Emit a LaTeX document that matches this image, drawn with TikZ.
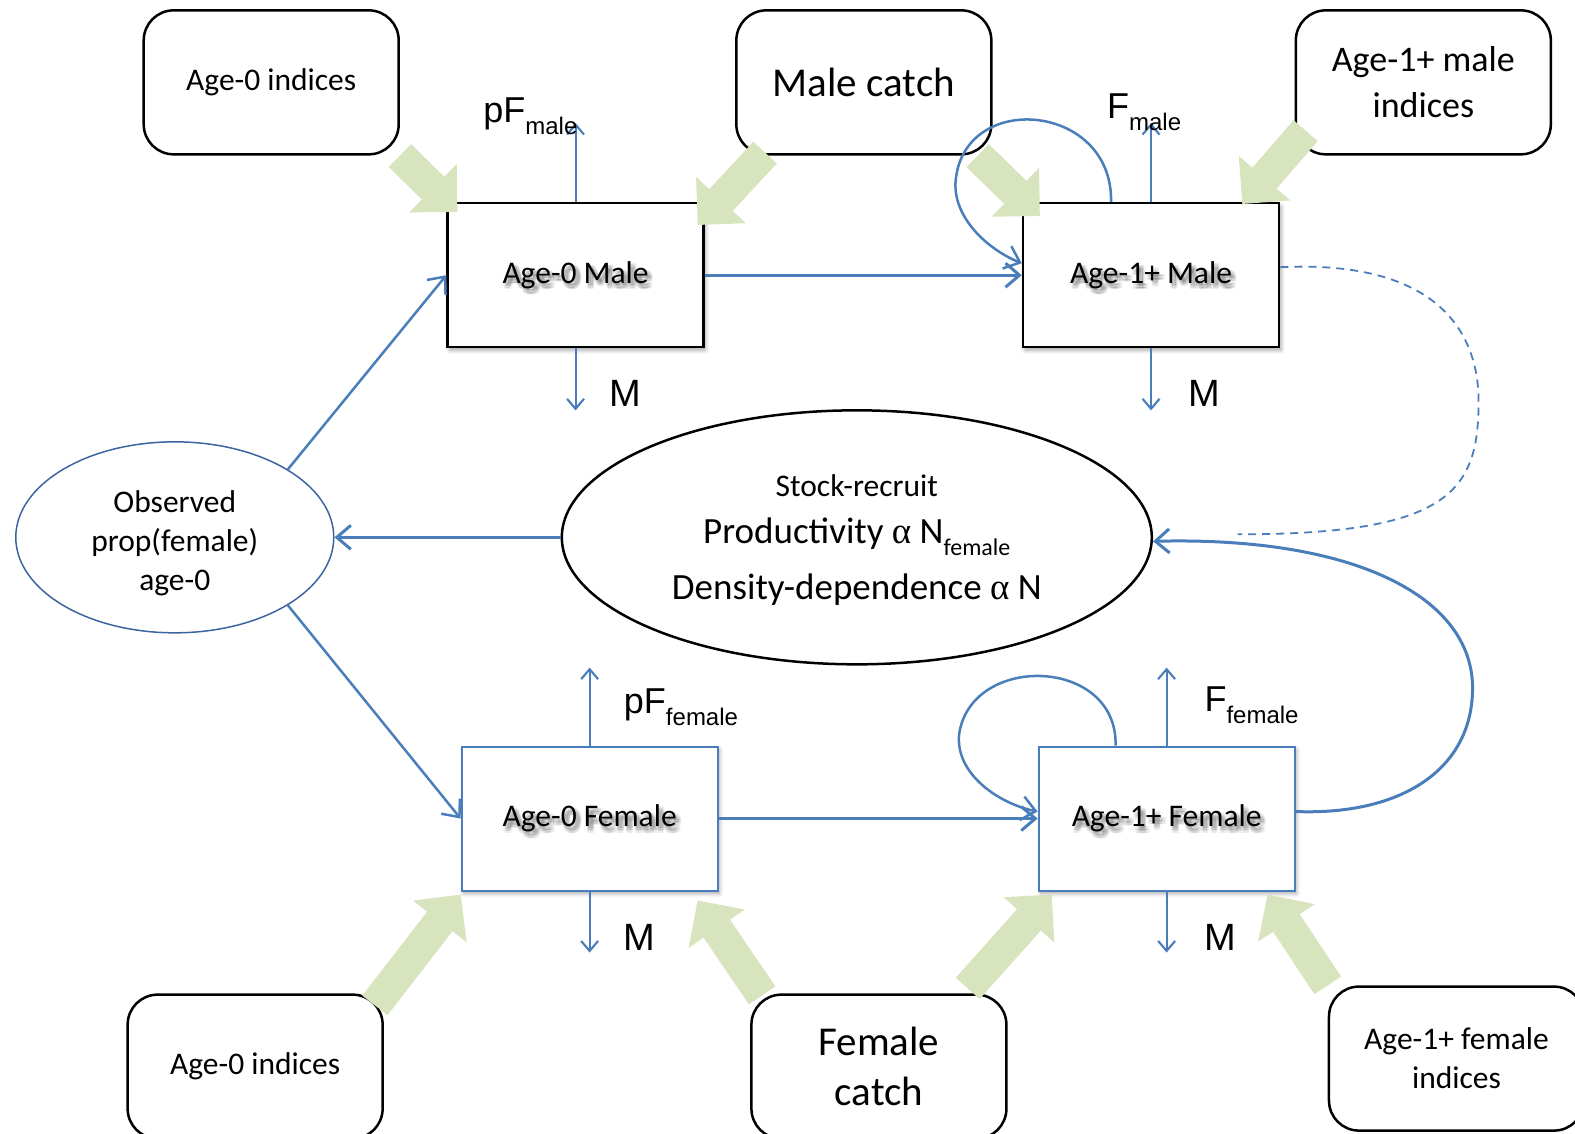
\documentclass[tikz,border=0pt]{standalone}
\usepackage{fontspec}
\setmainfont{Carlito}
\newfontfamily\arialfont{Liberation Sans}
\newfontfamily\symbfont{Liberation Serif}
\usetikzlibrary{arrows.meta, positioning, shapes.geometric, shadows.blur}

\definecolor{flowblue}{RGB}{74,126,187}
\definecolor{ellblue}{RGB}{60,100,160}
\definecolor{feedgreen}{RGB}{215,228,189}

\newcommand{\fsize}[2]{\fontsize{#1}{#2}\selectfont}
\newcommand{\ratelab}[2]{{\arialfont\fsize{36}{36}#1}\raisebox{-12pt}{\arialfont\fsize{24}{24}#2}}
\newcommand{\salpha}{{\symbfont α}}

\tikzset{
  every node/.style = {inner sep=0pt},
  popbox/.style     = {rectangle, draw, fill=white, line width=2.5pt,
                       minimum width=256pt, minimum height=144pt,
                       font=\fsize{31.5}{39},
                       blur shadow={shadow xshift=2pt, shadow yshift=-3pt,
                                    shadow blur radius=4pt, shadow opacity=35}},
  fembox/.style     = {popbox, draw=flowblue, line width=2pt},
  textshade/.style  = {font=\fsize{31.5}{39}, text=black, text opacity=0.045},
  databox/.style    = {rectangle, draw, rounded corners=30pt, line width=2.5pt,
                       minimum width=255pt, minimum height=144pt,
                       align=center, font=\fsize{31.5}{39}},
  obsell/.style     = {ellipse, draw=ellblue, line width=1.5pt,
                       minimum width=318pt, minimum height=191pt},
  srell/.style      = {ellipse, draw, line width=2.5pt,
                       minimum width=590pt, minimum height=254pt},
  mlab/.style       = {anchor=base west, font=\arialfont\fsize{38}{38}},
  feed/.style       = {draw=feedgreen, line width=32pt,
                       -{Triangle[length=34pt, width=68pt, line width=0pt]}},
  flow/.style       = {draw=flowblue, line width=3pt,
                       -{Straight Barb[length=14pt, width=24pt]}},
  ratearrow/.style  = {draw=flowblue, line width=2.1pt,
                       -{Straight Barb[length=10pt, width=17pt]}},
  dashlink/.style   = {draw=flowblue, line width=1.8pt, dash pattern=on 8pt off 6pt}
}

\begin{document}
\begin{tikzpicture}[x=1.0045pt, y=-1.0044pt]
  \useasboundingbox (0,0) rectangle (1568,1129);

  % population compartments
  \node[popbox] (m0) at (573,274) {Age-0 Male};
  \node[popbox, right=317pt of m0] (m1) {Age-1+ Male};
  \node[fembox] (f0) at (587,815) {Age-0 Female};
  \node[fembox, right=319pt of f0] (f1) {Age-1+ Female};
  % soft shadow under the compartment names
  \foreach \n/\t in {m0/Age-0 Male, m1/Age-1+ Male, f0/Age-0 Female, f1/Age-1+ Female}
    \foreach \dx/\dy [count=\k] in {1/-2, 2.5/-2, 4/-2, 5.5/-2, 1/-3.5, 2.5/-3.5, 4/-3.5, 5.5/-3.5,
                                     1/-5, 2.5/-5, 4/-5, 5.5/-5, 1/-6.5, 2.5/-6.5, 4/-6.5, 5.5/-6.5}
      \node[textshade] (\n-sh-\k) at ([shift={(\dx pt,\dy pt)}]\n.center) {\t};

  % data sources
  \node[databox] (idxm0) at (270,82) {Age-0 indices};
  \node[databox, font=\fsize{41}{50}] (catchm) at (860,82) {Male catch};
  \node[databox, font=\fsize{36}{46}] (idxm1) at (1417,82) {Age-1+ male\\indices};
  \node[databox] (idxf0) at (254,1062) {Age-0 indices};
  \node[databox, font=\fsize{41}{50}] (catchf) at (875,1062) {Female\\catch};
  \node[databox] (idxf1) at (1450,1054) {Age-1+ female\\indices};

  % recruitment
  \node[obsell] (obs) at (174,535) {};
  \node[align=center, font=\fsize{31.5}{39}] (obstxt) at ([yshift=-6pt]obs.center)
    {Observed\\prop(female)\\age-0};
  \node[srell] (sr) at (853,535) {};
  \node[anchor=base, font=\fsize{31.5}{39}] (sr1) at ([yshift=41pt]sr.center) {Stock-recruit};
  \node[anchor=base, font=\fsize{37}{46}] (sr2) at ([yshift=-6pt]sr.center)
    {Productivity \salpha{} N\raisebox{-12pt}{\fsize{24}{24}female}};
  \node[anchor=base, font=\fsize{37}{46}] (sr3) at ([yshift=-62pt]sr.center)
    {Density-dependence \salpha{} N};

  % data feeding the model
  \draw[feed] (idxm0.south east) -- ([shift={(11pt,-10pt)}]m0.north west);
  \draw[feed] ([shift={(30pt,3pt)}]catchm.south west) -- ([shift={(-7pt,-23pt)}]m0.north east);
  \draw[feed] ([xshift=-15pt]catchm.south east) -- ([shift={(18pt,-14pt)}]m1.north west);
  \draw[feed] ([shift={(11pt,25pt)}]idxm1.south west) -- ([shift={(-38pt,-2pt)}]m1.north east);
  \draw[feed] ([shift={(-9pt,-12pt)}]idxf0.north east) -- ([yshift=-3pt]f0.south west);
  \draw[feed] ([shift={(12pt,-2pt)}]catchf.north west) -- ([shift={(-21pt,-9pt)}]f0.south east);
  \draw[feed] ([shift={(-40pt,5pt)}]catchf.north east) -- ([shift={(14pt,-3pt)}]f1.south west);
  \draw[feed] (idxf1.north west) -- ([shift={(-28pt,-3pt)}]f1.south east);

  % ageing and recruitment flows
  \draw[flow] (m0) -- (m1);
  \draw[flow] (f0) -- (f1);
  \draw[flow] (sr) -- (obs);
  \draw[flow, line width=2.5pt] (obs.31) -- (m0.west);
  \draw[flow, line width=2.5pt] (obs.-31) -- (f0.west);

  % survival loops
  \draw[flow, line width=2.5pt] ([xshift=-40pt]m1.north)
    .. controls +(2,-97) and +(13,-85) .. (952,175)
    .. controls +(-7,40) and +(-33,-13) .. ([yshift=12pt]m1.west);
  \draw[flow, line width=2.5pt] ([xshift=-51pt]f1.north)
    .. controls +(2,-88) and +(13,-80) .. (955,730)
    .. controls +(-5,40) and +(-39,-8) .. ([yshift=7pt]f1.west);

  % spawners to stock-recruit
  \draw[flow] ([yshift=7pt]f1.east)
    .. controls +(107,4) and +(0,80) .. (1466,685)
    .. controls +(0,-90) and +(202,-5) .. ([yshift=-4pt]sr.east);
  \coordinate (dashend) at (1232,532);
  \draw[dashlink] ([yshift=8pt]m1.east)
    .. controls +(144,-7) and +(0,-80) .. (1472,400)
    .. controls +(0,90) and +(210,0) .. (dashend);

  % fishing and natural mortality
  \coordinate (pfm) at ([yshift=79pt]m0.north);
  \coordinate (mm0) at ([yshift=-62pt]m0.south);
  \coordinate (fm) at ([yshift=79pt]m1.north);
  \coordinate (mm1) at ([yshift=-62pt]m1.south);
  \coordinate (pff) at ([yshift=78pt]f0.north);
  \coordinate (mf0) at ([yshift=-61pt]f0.south);
  \coordinate (ff) at ([yshift=78pt]f1.north);
  \coordinate (mf1) at ([yshift=-61pt]f1.south);
  \draw[ratearrow] (m0.north) -- (pfm);
  \draw[ratearrow] (m0.south) -- (mm0);
  \draw[ratearrow] (m1.north) -- (fm);
  \draw[ratearrow] (m1.south) -- (mm1);
  \draw[ratearrow] (f0.north) -- (pff);
  \draw[ratearrow] (f0.south) -- (mf0);
  \draw[ratearrow] (f1.north) -- (ff);
  \draw[ratearrow] (f1.south) -- (mf1);

  \node[anchor=base west] (pfmlab) at (481,122) {\ratelab{pF}{male}};
  \node[anchor=base west] (fmlab) at (1102,118) {\ratelab{F}{male}};
  \node[anchor=base west] (pfflab) at (621,710) {\ratelab{pF}{female}};
  \node[anchor=base west] (fflab) at (1199,708) {\ratelab{F}{female}};
  \node[mlab] (mm0lab) at (607,405) {M};
  \node[mlab] (mm1lab) at (1183,405) {M};
  \node[mlab] (mf0lab) at (621,946) {M};
  \node[mlab] (mf1lab) at (1199,946) {M};
\end{tikzpicture}
\end{document}
